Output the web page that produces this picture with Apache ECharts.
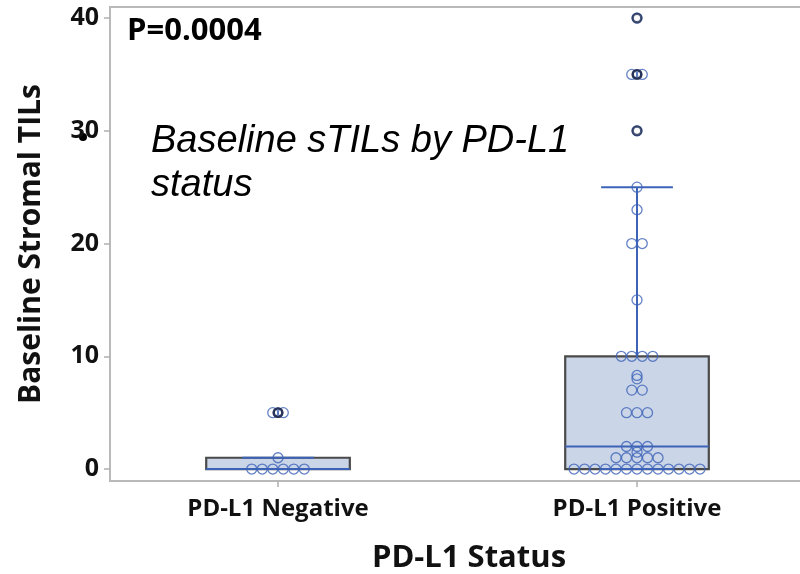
<!DOCTYPE html>
<html>
<head>
<meta charset="utf-8">
<script src="https://cdn.jsdelivr.net/npm/echarts@6/dist/echarts.min.js"></script>
<style>
  html, body { margin: 0; padding: 0; background: #fff; }
  #chart { width: 800px; height: 574px; }
</style>
</head>
<body>
<div id="chart"></div>
<script>
// Groups on the x axis (placed at x = 1 and x = 2)
const categories = ['PD-L1 Negative', 'PD-L1 Positive'];
const categoryPos = [1, 2];

// Individual baseline stromal TIL scores per group
const negativeValues = [0, 0, 0, 0, 0, 0, 1, 5, 5];
const positiveValues = [
  0, 0, 0, 0, 0, 0, 0, 0, 0, 0, 0, 0, 0,
  1, 1, 1, 1, 1, 1.5, 2, 2, 2,
  5, 5, 5, 7, 7, 8, 8.3,
  10, 10, 10, 10, 15, 20, 20, 23, 25,
  30, 35, 35, 40
];

// Box summary per group: whisker low, Q1, median, Q3, whisker high
const whiskerLow = [0, 0];
const quartile1 = [0, 0];
const medians = [0, 2];
const quartile3 = [1, 10];
const whiskerHigh = [1, 25];

// Points beyond the whiskers
const negativeOutliers = [5, 5];
const positiveOutliers = [30, 35, 35, 40];

// Y axis tick labels
const yTicks = [0, 10, 20, 30, 40];

const pValueText = 'P=0.0004';
const noteText = 'Baseline sTILs by PD-L1\nstatus';

const BOX_WIDTH = 0.4;     // in x-axis units
const CAP_WIDTH = 0.2;
const DOT_SPACING = 10.5;  // px between side-by-side points of equal value

const blue = '#3d63b8';
const boxFill = '#cad5e7';
const boxEdge = '#4a4a4a';
const outlierColor = '#1f2c52';
const axisGrey = '#b9b9b9';
const FONT = '"Open Sans"';

// Spread points of identical value horizontally around the group centre
function spreadPoints(values, pos) {
  const counts = {};
  values.forEach(v => { counts[v] = (counts[v] || 0) + 1; });
  const seen = {};
  return values.map(v => {
    const i = seen[v] || 0;
    seen[v] = i + 1;
    const off = (i - (counts[v] - 1) / 2) * DOT_SPACING;
    return { value: [pos, v], symbolOffset: [off, 0] };
  });
}

const boxData = categories.map((c, i) => [
  categoryPos[i], whiskerLow[i], quartile1[i], medians[i], quartile3[i], whiskerHigh[i]
]);

function renderBox(params, api) {
  const x = api.value(0);
  const lo = api.coord([x, api.value(1)]);
  const q1 = api.coord([x, api.value(2)]);
  const md = api.coord([x, api.value(3)]);
  const q3 = api.coord([x, api.value(4)]);
  const hi = api.coord([x, api.value(5)]);
  const halfBox = api.size([BOX_WIDTH, 0])[0] / 2;
  const halfCap = api.size([CAP_WIDTH, 0])[0] / 2;
  const cx = q1[0];
  const lineStyle = { stroke: blue, lineWidth: 2 };
  return {
    type: 'group',
    children: [
      { type: 'line', shape: { x1: cx, y1: q3[1], x2: cx, y2: hi[1] }, style: lineStyle },
      { type: 'line', shape: { x1: cx, y1: q1[1], x2: cx, y2: lo[1] }, style: lineStyle },
      {
        type: 'rect',
        shape: { x: cx - halfBox, y: q3[1], width: halfBox * 2, height: q1[1] - q3[1] },
        style: { fill: boxFill, stroke: boxEdge, lineWidth: 2.2 }
      },
      { type: 'line', shape: { x1: cx - halfBox, y1: md[1], x2: cx + halfBox, y2: md[1] }, style: lineStyle },
      { type: 'line', shape: { x1: cx - halfCap, y1: hi[1], x2: cx + halfCap, y2: hi[1] }, style: lineStyle },
      { type: 'line', shape: { x1: cx - halfCap, y1: lo[1], x2: cx + halfCap, y2: lo[1] }, style: lineStyle }
    ]
  };
}

const pointStyle = { color: 'rgba(0,0,0,0)', borderColor: blue, borderWidth: 1.3 };
const outlierStyle = { color: 'rgba(255,255,255,0)', borderColor: outlierColor, borderWidth: 2.4 };

const chart = echarts.init(document.getElementById('chart'), null, { renderer: 'canvas' });

chart.setOption({
  animation: false,
  backgroundColor: '#fff',
  grid: {
    left: 110, right: -28, top: 7, bottom: 93,
    containLabel: false,
    outerBoundsMode: 'none',
    show: true, borderColor: axisGrey, borderWidth: 2
  },
  xAxis: {
    type: 'value',
    min: 0.532, max: 2.532,
    splitLine: { show: false },
    axisLine: { show: true, onZero: false, lineStyle: { color: axisGrey, width: 2 } },
    axisTick: { show: true, customValues: categoryPos, length: 6, lineStyle: { color: '#b0b0b0', width: 1.5 } },
    axisLabel: {
      customValues: categoryPos,
      formatter: v => categories[categoryPos.indexOf(v)] || '',
      margin: 16,
      fontFamily: FONT, fontWeight: 'bold', fontSize: 24, color: '#111'
    },
    name: 'PD-L1 Status',
    nameLocation: 'middle',
    nameGap: 62,
    nameTextStyle: { fontFamily: FONT, fontWeight: 'bold', fontSize: 31, color: '#111' }
  },
  yAxis: {
    type: 'value',
    min: -1.06, max: 40.98,
    splitLine: { show: false },
    axisLine: { show: true, onZero: false, lineStyle: { color: axisGrey, width: 2 } },
    axisTick: { show: true, customValues: yTicks, length: 6, lineStyle: { color: '#b0b0b0', width: 1.5 } },
    axisLabel: {
      customValues: yTicks,
      margin: 11,
      fontFamily: FONT, fontWeight: 'bold', fontSize: 25, color: '#111'
    },
    name: 'Baseline Stromal TILs',
    nameLocation: 'middle',
    nameGap: 64,
    nameTextStyle: { fontFamily: FONT, fontWeight: 'bold', fontSize: 30, color: '#111' }
  },
  series: [
    {
      type: 'custom',
      renderItem: renderBox,
      data: boxData,
      encode: { x: 0, y: [1, 2, 3, 4, 5] },
      z: 1,
      silent: true
    },
    {
      type: 'scatter',
      symbol: 'circle',
      symbolSize: 10,
      itemStyle: pointStyle,
      data: spreadPoints(negativeValues, categoryPos[0]).concat(spreadPoints(positiveValues, categoryPos[1])),
      z: 3
    },
    {
      type: 'scatter',
      symbol: 'circle',
      symbolSize: 8.5,
      itemStyle: outlierStyle,
      data: negativeOutliers.map(v => [categoryPos[0], v]).concat(positiveOutliers.map(v => [categoryPos[1], v])),
      z: 4
    }
  ],
  graphic: [
    {
      type: 'text', left: 127, top: 16,
      style: { text: pValueText, font: 'bold 31px "Open Sans"', fill: '#000' }
    },
    {
      type: 'text', left: 151, top: 119,
      style: { text: noteText, font: 'italic 38px "Liberation Sans"', fill: '#000', lineHeight: 44 }
    },
    {
      type: 'circle', shape: { cx: 83, cy: 137, r: 4 }, style: { fill: '#000' }
    }
  ]
});
</script>
</body>
</html>
